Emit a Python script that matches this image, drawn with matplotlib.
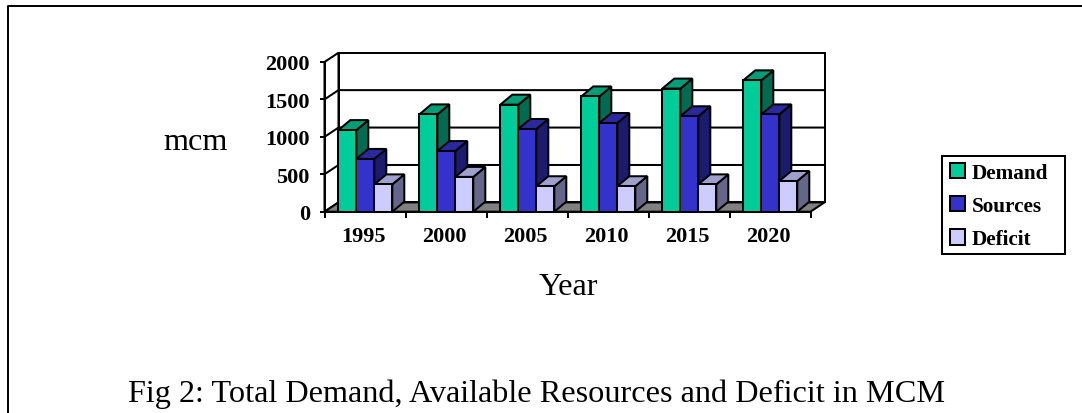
import matplotlib
matplotlib.use("Agg")
import matplotlib.pyplot as plt
from matplotlib.patches import Polygon, Patch, Rectangle
from matplotlib.lines import Line2D

years = ["1995", "2000", "2005", "2010", "2015", "2020"]
demand = [1090, 1300, 1430, 1540, 1645, 1755]
sources = [705, 810, 1105, 1185, 1275, 1300]
deficit = [365, 465, 340, 340, 365, 410]
y_ticks = [0, 500, 1000, 1500, 2000]

series = [
    ("Demand", demand, "#00CC99", "#009E77", "#006B50"),
    ("Sources", sources, "#3333CC", "#2A2A9E", "#1C1C6E"),
    ("Deficit", deficit, "#CCCCFF", "#A0A0CC", "#66668A"),
]

W, H = 1082, 414
plt.rcParams["font.family"] = ["Liberation Serif", "DejaVu Serif"]
fig = plt.figure(figsize=(W / 100, H / 100), dpi=100)

# front plane of the 3D box, in pixels
L, R, T, B = 324.5, 810.5, 63.0, 212.7
ax = fig.add_axes([L / W, 1 - B / H, (R - L) / W, (B - T) / H])
ax.set_xlim(0, len(years))
ax.set_ylim(0, 2000)
ax.patch.set_alpha(0)

px_x = len(years) / (R - L)
px_y = 2000 / (B - T)
wall_dx, wall_dy = 14 * px_x, 9.3 * px_y
bar_dx, bar_dy = 12 * px_x, 10 * px_y
bar_w = 18 * px_x
bar_start = 13.8 * px_x
LW = 1.45
n = len(years)


def poly(pts, fc, z):
    ax.add_patch(Polygon(pts, closed=True, facecolor=fc, edgecolor="black",
                         linewidth=LW, joinstyle="miter", clip_on=False, zorder=z))


# floor and walls
poly([(wall_dx, wall_dy), (n + wall_dx, wall_dy), (n + wall_dx, 2000 + wall_dy), (wall_dx, 2000 + wall_dy)], "white", 1)
poly([(0, 0), (wall_dx, wall_dy), (wall_dx, 2000 + wall_dy), (0, 2000)], "white", 1)
poly([(0, 0), (n, 0), (n + wall_dx, wall_dy), (wall_dx, wall_dy)], "#808080", 1.1)
for v in y_ticks[1:-1]:
    ax.add_line(Line2D([0, wall_dx, n + wall_dx], [v, v + wall_dy, v + wall_dy],
                       color="black", linewidth=LW, clip_on=False, zorder=1.2))

# bars
for i in range(n):
    for j, (name, vals, front, top, side) in enumerate(series):
        x0 = i + bar_start + j * bar_w
        x1 = x0 + bar_w
        v = vals[i]
        z = 3 + i + j * 0.1
        poly([(x1, 0), (x1 + bar_dx, bar_dy), (x1 + bar_dx, v + bar_dy), (x1, v)], side, z)
        poly([(x0, v), (x1, v), (x1 + bar_dx, v + bar_dy), (x0 + bar_dx, v + bar_dy)], top, z)
        poly([(x0, 0), (x1, 0), (x1, v), (x0, v)], front, z)

# axes
for s in ("top", "right"):
    ax.spines[s].set_visible(False)
for s in ("left", "bottom"):
    ax.spines[s].set_linewidth(LW)
ax.set_xticks(range(n + 1))
ax.set_xticklabels([])
ax.set_xticks([i + 0.5 - 1.5 * px_x for i in range(n)], minor=True)
ax.set_xticklabels(years, minor=True, fontsize=16, fontweight="bold")
ax.tick_params(axis="x", which="major", length=4.2, width=LW)
ax.tick_params(axis="x", which="minor", length=0, pad=10)
ax.set_yticks(y_ticks)
ax.set_yticklabels([str(v) for v in y_ticks], fontsize=16, fontweight="bold")
ax.tick_params(axis="y", length=3.5, width=LW, pad=7)

fig.text(196 / W, 1 - 143 / H, "mcm", fontsize=23.2, ha="center", va="center")
fig.text(568.5 / W, 1 - 288 / H, "Year", fontsize=23.2, ha="center", va="center")
fig.text(536.5 / W, 1 - 394 / H, "Fig 2: Total Demand, Available Resources and Deficit in MCM",
         fontsize=23.2, ha="center", va="center")

# legend: separate frame so the rows can sit centred inside it
fig.add_artist(Rectangle((942 / W, 1 - 255 / H), 123 / W, 98 / H, facecolor="white", edgecolor="black",
                         linewidth=LW, transform=fig.transFigure))
handles = [Patch(facecolor=s[2], edgecolor="black", linewidth=LW, label=s[0]) for s in series]
leg = fig.legend(handles=handles, loc="lower left",
                 bbox_to_anchor=(950 / W, 1 - 250.5 / H), bbox_transform=fig.transFigure,
                 borderaxespad=0, frameon=False,
                 prop={"weight": "bold", "size": 15.3}, handlelength=0.72, handleheight=0.72,
                 handletextpad=0.3, labelspacing=0.63, borderpad=0)

# outer frame: left and top edges only
fig.add_artist(Line2D([8 / W, 8 / W, 1], [0, 1 - 6.5 / H, 1 - 6.5 / H], color="black",
                      linewidth=1.4, transform=fig.transFigure))

fig.savefig("out.png", dpi=100)
